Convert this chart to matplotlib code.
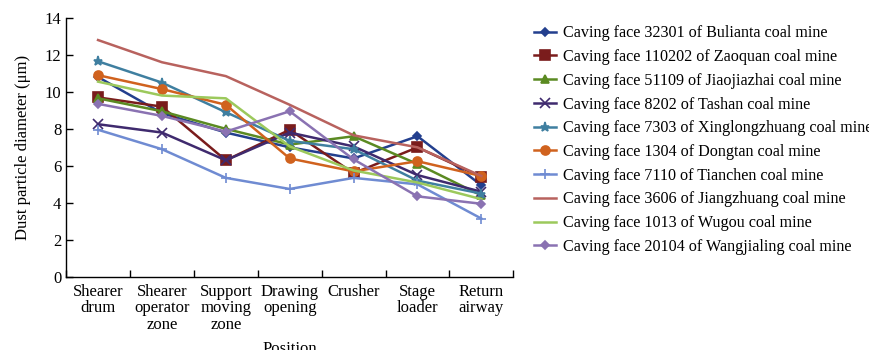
import matplotlib
matplotlib.use("Agg")
import matplotlib.pyplot as plt
from matplotlib.ticker import FixedLocator, NullFormatter

positions = ["Shearer\ndrum", "Shearer\noperator\nzone", "Support\nmoving\nzone",
             "Drawing\nopening", "Crusher", "Stage\nloader", "Return\nairway"]

names = [
    "Caving face 32301 of Bulianta coal mine",
    "Caving face 110202 of Zaoquan coal mine",
    "Caving face 51109 of Jiaojiazhai coal mine",
    "Caving face 8202 of Tashan coal mine",
    "Caving face 7303 of Xinglongzhuang coal mine",
    "Caving face 1304 of Dongtan coal mine",
    "Caving face 7110 of Tianchen coal mine",
    "Caving face 3606 of Jiangzhuang coal mine",
    "Caving face 1013 of Wugou coal mine",
    "Caving face 20104 of Wangjialing coal mine",
]

bulianta = [10.8, 8.85, 7.8, 7.0, 6.4, 7.6, 4.95]
zaoquan = [9.7, 9.2, 6.3, 7.95, 5.6, 7.0, 5.4]
jiaojiazhai = [9.65, 8.95, 8.0, 7.15, 7.6, 6.1, 4.4]
tashan = [8.25, 7.8, 6.3, 7.8, 7.05, 5.5, 4.6]
xinglongzhuang = [11.65, 10.5, 8.9, 7.35, 6.9, 5.2, 4.5]
dongtan = [10.9, 10.15, 9.3, 6.4, 5.7, 6.25, 5.45]
tianchen = [7.95, 6.9, 5.35, 4.75, 5.35, 5.0, 3.15]
jiangzhuang = [12.8, 11.6, 10.85, 9.3, 7.65, 7.0, 5.45]
wugou = [10.55, 9.8, 9.65, 7.05, 5.75, 5.1, 4.2]
wangjialing = [9.35, 8.7, 7.85, 8.95, 6.35, 4.35, 3.95]

series = [bulianta, zaoquan, jiaojiazhai, tashan, xinglongzhuang,
          dongtan, tianchen, jiangzhuang, wugou, wangjialing]
colors = ["#233f8e", "#7a1c1c", "#5b8a22", "#3f2a6e", "#3f7fa0",
          "#d0621e", "#6f8bd2", "#b8625e", "#9cc95c", "#8a72b2"]
markers = ["D", "s", "^", "x", "*", "o", "+", None, None, "D"]
msizes = [4.5, 6.5, 5.5, 6.5, 6.5, 6.5, 7.5, 0, 0, 4.5]

plt.rcParams['font.family'] = ['Liberation Serif', 'DejaVu Serif']

fig = plt.figure(figsize=(8.7, 3.5), dpi=100)
ax = fig.add_axes([0.076, 0.209, 0.514, 0.740])

x = list(range(len(positions)))
for vals, name, c, m, ms in zip(series, names, colors, markers, msizes):
    ax.plot(x, vals, color=c, lw=1.8, marker=m, markersize=ms,
            markeredgewidth=1.2, label=name)

ax.set_xlim(-0.5, 6.5)
ax.set_ylim(0, 14)
ax.set_yticks(range(0, 15, 2))
ax.xaxis.set_major_locator(FixedLocator([i - 0.5 for i in range(8)]))
ax.xaxis.set_major_formatter(NullFormatter())
ax.xaxis.set_minor_locator(FixedLocator(x))
ax.set_xticklabels(positions, minor=True)
ax.tick_params(axis='x', which='major', direction='in', length=5, width=1)
ax.tick_params(axis='x', which='minor', length=0, pad=5, labelsize=12)
ax.tick_params(axis='y', direction='in', length=5, width=1, labelsize=12)
for lab in ax.get_xticklabels(minor=True):
    lab.set_linespacing(1.05)
ax.spines['top'].set_visible(False)
ax.spines['right'].set_visible(False)
ax.spines['left'].set_linewidth(1)
ax.spines['bottom'].set_linewidth(1)

ax.set_xlabel("Position", fontsize=12, labelpad=6)
ax.set_ylabel("Dust particle diameter (μm)", fontsize=12, labelpad=10)

leg = fig.legend(loc='upper left', bbox_to_anchor=(0.606, 0.946), frameon=False,
                 fontsize=11.6, handlelength=1.4, handletextpad=0.42,
                 labelspacing=0.48, borderaxespad=0)

fig.savefig("out.png", dpi=100)
